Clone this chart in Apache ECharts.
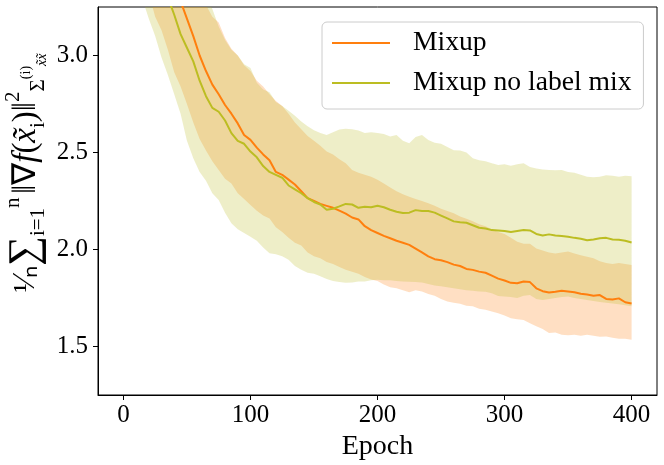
<!DOCTYPE html>
<html>
<head>
<meta charset="utf-8">
<script src="https://cdn.jsdelivr.net/npm/echarts@6/dist/echarts.min.js"></script>
<style>
html,body{margin:0;padding:0;background:#fff;}
#c{width:664px;height:465px;}
</style>
</head>
<body>
<div id="c"></div>
<script>
const epochs = [0,5,10,15,20,25,30,35,40,45,50,55,60,65,70,75,80,85,90,95,100,105,110,115,120,125,130,135,140,145,150,155,160,165,170,175,180,185,190,195,200,205,210,215,220,225,230,235,240,245,250,255,260,265,270,275,280,285,290,295,300,305,310,315,320,325,330,335,340,345,350,355,360,365,370,375,380,385,390,395,400];

const mixupMean = [4.6,4.4,4.2,4.0,3.85,3.7,3.58,3.46,3.36,3.28,3.19,3.10,3.00,2.92,2.85,2.80,2.745,2.70,2.65,2.59,2.565,2.525,2.49,2.46,2.40,2.385,2.36,2.335,2.30,2.265,2.25,2.235,2.225,2.215,2.20,2.185,2.165,2.155,2.12,2.10,2.085,2.07,2.058,2.045,2.035,2.024,2.005,1.985,1.965,1.95,1.945,1.935,1.922,1.915,1.90,1.895,1.886,1.88,1.865,1.85,1.84,1.828,1.826,1.835,1.832,1.80,1.785,1.778,1.782,1.787,1.784,1.78,1.772,1.768,1.762,1.765,1.745,1.742,1.748,1.728,1.722];
const mixupUpper = [5.8,5.5,5.2,4.9,4.6,4.4,4.2,4.0,3.85,3.7,3.58,3.45,3.33,3.26,3.20,3.17,3.09,3.035,3.0,2.95,2.92,2.87,2.84,2.80,2.765,2.74,2.70,2.655,2.62,2.585,2.56,2.535,2.505,2.49,2.465,2.445,2.41,2.395,2.385,2.375,2.36,2.34,2.32,2.30,2.285,2.272,2.26,2.25,2.238,2.225,2.21,2.198,2.187,2.17,2.158,2.145,2.13,2.12,2.105,2.09,2.08,2.06,2.04,2.03,2.03,2.005,1.995,1.985,1.98,1.985,1.99,1.98,1.97,1.962,1.955,1.94,1.93,1.925,1.93,1.925,1.92];
const mixupLower = [3.9,3.75,3.6,3.45,3.32,3.2,3.13,3.03,2.914,2.84,2.75,2.655,2.57,2.51,2.455,2.41,2.365,2.34,2.29,2.26,2.23,2.2,2.175,2.16,2.115,2.09,2.06,2.035,2.02,1.985,1.965,1.955,1.935,1.925,1.91,1.895,1.885,1.875,1.858,1.845,1.838,1.82,1.805,1.80,1.79,1.78,1.79,1.784,1.77,1.762,1.745,1.732,1.725,1.72,1.71,1.708,1.695,1.69,1.68,1.672,1.66,1.645,1.64,1.636,1.62,1.605,1.59,1.57,1.572,1.56,1.558,1.56,1.555,1.56,1.555,1.55,1.552,1.545,1.54,1.54,1.535];

const noMixMean = [4.3,4.1,3.92,3.75,3.62,3.5,3.4,3.30,3.21,3.11,3.04,2.97,2.87,2.79,2.73,2.71,2.665,2.60,2.56,2.545,2.505,2.475,2.43,2.40,2.385,2.37,2.33,2.31,2.29,2.265,2.245,2.232,2.205,2.21,2.222,2.235,2.232,2.215,2.22,2.218,2.226,2.218,2.205,2.195,2.188,2.19,2.203,2.198,2.198,2.19,2.175,2.16,2.145,2.14,2.138,2.125,2.112,2.108,2.10,2.098,2.095,2.09,2.095,2.10,2.098,2.08,2.072,2.078,2.072,2.07,2.066,2.06,2.055,2.048,2.052,2.058,2.06,2.052,2.05,2.045,2.036];
const noMixUpper = [5.2,5.0,4.8,4.6,4.4,4.2,4.05,3.9,3.77,3.65,3.55,3.45,3.37,3.3,3.24,3.15,3.08,3.03,3.0,2.955,2.935,2.86,2.825,2.81,2.76,2.74,2.715,2.69,2.66,2.635,2.615,2.60,2.59,2.605,2.618,2.622,2.62,2.614,2.60,2.605,2.6,2.595,2.583,2.59,2.56,2.548,2.58,2.59,2.565,2.55,2.545,2.528,2.512,2.51,2.50,2.47,2.46,2.455,2.445,2.435,2.44,2.432,2.44,2.445,2.425,2.418,2.412,2.41,2.408,2.41,2.40,2.395,2.385,2.375,2.372,2.375,2.383,2.38,2.375,2.38,2.378];
const noMixLower = [3.7,3.55,3.42,3.29,3.19,3.10,2.99,2.90,2.80,2.70,2.56,2.47,2.40,2.355,2.29,2.255,2.19,2.135,2.105,2.085,2.066,2.045,2.01,1.981,1.975,1.965,1.947,1.915,1.895,1.88,1.875,1.862,1.848,1.838,1.832,1.828,1.83,1.835,1.835,1.842,1.844,1.842,1.842,1.838,1.835,1.834,1.832,1.83,1.822,1.815,1.81,1.805,1.80,1.795,1.79,1.788,1.784,1.782,1.775,1.76,1.758,1.755,1.75,1.762,1.765,1.745,1.74,1.745,1.75,1.755,1.758,1.75,1.745,1.74,1.735,1.73,1.725,1.722,1.718,1.712,1.707];

const xTicks = [0,100,200,300,400];
const yTicks = [1.5,2.0,2.5,3.0];
const seriesNames = ['Mixup','Mixup no label mix'];
const colors = ['#ff7f0e','#bcbd22'];

const FONT = 'Liberation Serif';

function pairs(arr){ return epochs.map((e,i)=>[e,arr[i]]); }

function band(lo, up, color){
  return {
    type:'custom', silent:true, z:1,
    data:[0],
    renderItem:function(params, api){
      const pts = [];
      for (let i=0;i<epochs.length;i++) pts.push(api.coord([epochs[i], up[i]]));
      for (let i=epochs.length-1;i>=0;i--) pts.push(api.coord([epochs[i], lo[i]]));
      const cs = params.coordSys;
      return {
        type:'polygon',
        shape:{points:pts},
        style:{fill:color, opacity:0.25},
        clipPath:{type:'rect', shape:{x:cs.x, y:cs.y, width:cs.width, height:cs.height}}
      };
    }
  };
}

const chart = echarts.init(document.getElementById('c'), null, {renderer:'canvas'});
const option = {
  animation:false,
  backgroundColor:'#fff',
  grid:{left:98, right:7, top:7, bottom:70, show:true, borderColor:'#000', borderWidth:1, containLabel:false, outerBoundsMode:'none'},
  xAxis:{type:'value', min:-20, max:420,
    name:'Epoch', nameLocation:'middle', nameGap:32,
    nameTextStyle:{fontFamily:FONT, fontSize:28, color:'#000'},
    axisLine:{show:true, onZero:false, lineStyle:{color:'#000', width:1}},
    axisTick:{show:true, length:5, lineStyle:{color:'#000'}, customValues:xTicks},
    axisLabel:{fontFamily:FONT, fontSize:25, color:'#000', margin:8, customValues:xTicks},
    splitLine:{show:false}},
  yAxis:{type:'value', min:1.25, max:3.25,
    axisLine:{show:true, onZero:false, lineStyle:{color:'#000', width:1}},
    axisTick:{show:true, length:5, lineStyle:{color:'#000'}, customValues:yTicks},
    axisLabel:{fontFamily:FONT, fontSize:25, color:'#000', margin:10, customValues:yTicks,
      formatter:(v)=>v.toFixed(1)},
    splitLine:{show:false}},
  legend:{
    data:seriesNames.map(n=>({name:n, icon:'rect'})), orient:'vertical', left:322, top:22,
    padding:[7,12,12,10], itemGap:12, itemWidth:58, itemHeight:2,
    borderColor:'#cccccc', borderWidth:1, borderRadius:5, backgroundColor:'rgba(255,255,255,0.8)',
    textStyle:{fontFamily:FONT, fontSize:27.6, color:'#000', padding:[0,0,0,18], lineHeight:27}
  },
  graphic:[{
    type:'text', x:26, y:173, rotation:Math.PI/2,
    style:{
      text:'{fr|¹⁄ₙ}{big|∑}{sb|i=1}{sp|n} {m|‖∇}{it|f}{m|(}{it|x̃}{sb|i}{m|)‖}{sp|2}{sb|Σ}{ssp|(i)}{ssb|x̃x̃}',
      align:'center', verticalAlign:'middle',
      rich:{
        fr:{fontFamily:FONT, fontSize:31, fill:'#000', lineHeight:46},
        big:{fontFamily:FONT, fontSize:42, fill:'#000', lineHeight:46},
        m:{fontFamily:FONT, fontSize:33, fill:'#000', lineHeight:46},
        it:{fontFamily:FONT, fontSize:33, fontStyle:'italic', fill:'#000', lineHeight:46},
        sp:{fontFamily:FONT, fontSize:21, fill:'#000', verticalAlign:'top', lineHeight:46},
        sb:{fontFamily:FONT, fontSize:21, fill:'#000', verticalAlign:'bottom', lineHeight:46},
        ssp:{fontFamily:FONT, fontSize:14, fill:'#000', verticalAlign:'middle', lineHeight:46},
        ssb:{fontFamily:FONT, fontSize:14, fontStyle:'italic', fill:'#000', verticalAlign:'bottom', lineHeight:46}
      }
    }
  }],
  series:[
    band(mixupLower, mixupUpper, colors[0]),
    band(noMixLower, noMixUpper, colors[1]),
    {name:seriesNames[0], type:'line', data:pairs(mixupMean), symbol:'none',
     lineStyle:{color:colors[0], width:2}, itemStyle:{color:colors[0]}, z:3},
    {name:seriesNames[1], type:'line', data:pairs(noMixMean), symbol:'none',
     lineStyle:{color:colors[1], width:2}, itemStyle:{color:colors[1]}, z:3}
  ]
};
chart.setOption(option);
</script>
</body>
</html>
